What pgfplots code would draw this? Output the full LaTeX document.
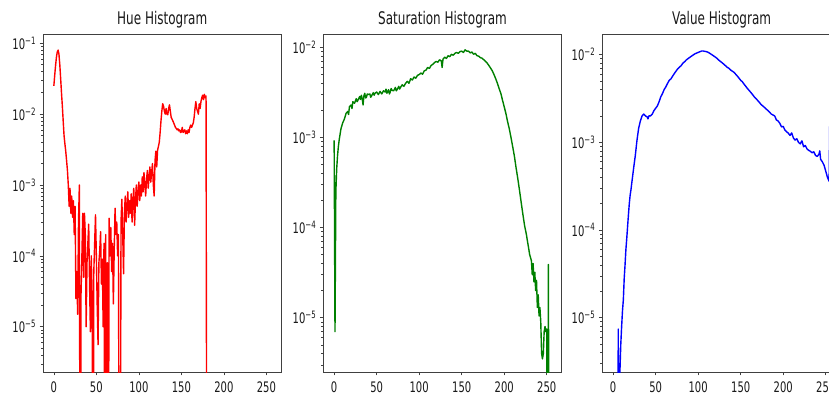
\documentclass[border=0pt]{standalone}
\usepackage{pgfplots}
\pgfplotsset{compat=1.18}
\usepackage{fontspec}
\setmainfont{DejaVu Sans}
\usepackage{graphicx}
\newcommand{\sy}[1]{\scalebox{1}[1.45]{#1}}
\newcommand{\ex}[1]{\sy{10\textsuperscript{−#1}}}
\pgfplotsset{
 every axis/.append style={
  scale only axis, width=238.5pt, height=338pt, anchor=south west,
  xmin=-12.75, xmax=267.75,
  xtick={0,50,100,150,200,250},
  xticklabels={\sy{0},\sy{50},\sy{100},\sy{150},\sy{200},\sy{250}},
  tick align=outside, tick pos=left,
  major tick length=3.5pt, minor tick length=2pt,
  tick style={black!75, line width=0.6pt},
  axis line style={black!75, line width=0.8pt},
  tick label style={font=\fontsize{10}{12}\selectfont, text=black!90},
  xticklabel style={yshift=-2.5pt},
  title style={font=\fontsize{12}{14}\selectfont, anchor=base, yshift=3.5pt, text=black!90},
 },
}
\begin{document}
\begin{tikzpicture}
\path[use as bounding box, clip] (0pt,0pt) rectangle (829pt,396pt);
% ---------------- Hue
\begin{axis}[ymode=log, at={(43pt,24pt)}, ymin=2.3e-6, ymax=0.135, title={\sy{Hue Histogram}},
  ytick={1e-5,1e-4,1e-3,1e-2,1e-1},
  yticklabels={\ex{5},\ex{4},\ex{3},\ex{2},\ex{1}},
  minor ytick={3e-6,4e-6,5e-6,6e-6,7e-6,8e-6,9e-6,2e-5,3e-5,4e-5,5e-5,6e-5,7e-5,8e-5,9e-5,2e-4,3e-4,4e-4,5e-4,6e-4,7e-4,8e-4,9e-4,2e-3,3e-3,4e-3,5e-3,6e-3,7e-3,8e-3,9e-3,2e-2,3e-2,4e-2,5e-2,6e-2,7e-2,8e-2,9e-2}]
\addplot[line width=1.4pt, mark=none, line join=round, color=red] coordinates {
(0,2.5e-2)(1,3.5e-2)(2,4.8e-2)(3,6.3e-2)(4,7.5e-2)(5,8e-2)(6,7e-2)(7,5e-2)(8,3.2e-2)(9,2e-2)
(10,1.3e-2)(11,8e-3)(12,5e-3)(13,3.8e-3)(14,3e-3)(15,2.2e-3)(16,1.6e-3)(17,1e-3)(18,5e-4)(19,9e-4)
(20,4e-4)(21,7e-4)(22,3.5e-4)(23,6e-4)(24,2e-4)(25,5e-4)(26,2.5e-5)(27,6e-5)(28,1.5e-5)(29,3e-4)
(30,1e-3)(31,1e-9)(32,3e-5)(33,1e-4)(34,4e-4)(35,5e-5)(36,4e-4)(37,2e-4)(38,1e-5)(39,8e-5)
(40,1.5e-4)(41,2.8e-4)(42,4e-5)(43,8.5e-6)(44,1e-4)(45,3e-5)(46,1e-9)(47,6e-5)(48,1.5e-4)(49,3.8e-4)
(50,1e-4)(51,2e-5)(52,5.6e-6)(53,8e-5)(54,1.2e-4)(55,2.2e-4)(56,4e-5)(57,9e-5)(58,1e-5)(59,1.5e-4)
(60,1e-9)(61,2e-4)(62,1e-9)(63,8e-5)(64,1e-9)(65,3.4e-4)(66,1e-4)(67,2.5e-4)(68,6e-5)(69,1.5e-4)
(70,2.1e-5)(71,1.2e-4)(72,4.7e-4)(73,2e-4)(74,3e-4)(75,1e-4)(76,2e-4)(77,1e-9)(78,1e-9)(79,3e-4)
(80,6.3e-4)(81,2e-4)(82,5.6e-5)(83,4e-4)(84,7e-4)(85,3e-4)(86,5e-4)(87,8e-4)(88,3.5e-4)(89,6e-4)
(90,4e-4)(91,7.5e-4)(92,3e-4)(93,6e-4)(94,9e-4)(95,2.7e-4)(96,6e-4)(97,1e-3)(98,5e-4)(99,8e-4)
(100,1.1e-3)(101,6e-4)(102,1e-3)(103,7e-4)(104,1.3e-3)(105,8e-4)(106,1.5e-3)(107,1e-3)(108,7e-4)(109,1.2e-3)
(110,1.6e-3)(111,9e-4)(112,1.3e-3)(113,1.8e-3)(114,1.1e-3)(115,1.5e-3)(116,2e-3)(117,1e-3)(118,7e-4)(119,2.2e-3)
(120,3e-3)(121,1.8e-3)(122,3.1e-3)(123,3.5e-3)(124,4e-3)(125,5.5e-3)(126,8e-3)(127,1.1e-2)(128,1.4e-2)(129,1.3e-2)
(130,1.1e-2)(131,1e-2)(132,1.2e-2)(133,1e-2)(134,9.8e-3)(135,1.2e-2)(136,1.35e-2)(137,1.1e-2)(138,9e-3)(139,8.5e-3)
(140,8e-3)(141,7.5e-3)(142,7e-3)(143,6.5e-3)(144,6.3e-3)(145,6e-3)(146,6.2e-3)(147,5.8e-3)(148,6e-3)(149,5.5e-3)
(150,5.6e-3)(151,6.5e-3)(152,5.5e-3)(153,5.8e-3)(154,6e-3)(155,5.3e-3)(156,5.8e-3)(157,5.3e-3)(158,6e-3)(159,5.5e-3)
(160,6.5e-3)(161,7e-3)(162,6.5e-3)(163,7e-3)(164,7.5e-3)(165,9e-3)(166,1.2e-2)(167,1.5e-2)(168,1.2e-2)(169,1.1e-2)
(170,1e-2)(171,1.4e-2)(172,1.2e-2)(173,1.5e-2)(174,1.7e-2)(175,1.85e-2)(176,1.6e-2)(177,1.9e-2)(178,1.7e-2)(179,1.8e-2)
(180,1e-9)
};
\end{axis}
% ---------------- Saturation
\begin{axis}[ymode=log, at={(323.3pt,24pt)}, ymin=2.5e-6, ymax=0.0141, title={\sy{Saturation Histogram}},
  ytick={1e-5,1e-4,1e-3,1e-2},
  yticklabels={\ex{5},\ex{4},\ex{3},\ex{2}},
  minor ytick={3e-6,4e-6,5e-6,6e-6,7e-6,8e-6,9e-6,2e-5,3e-5,4e-5,5e-5,6e-5,7e-5,8e-5,9e-5,2e-4,3e-4,4e-4,5e-4,6e-4,7e-4,8e-4,9e-4,2e-3,3e-3,4e-3,5e-3,6e-3,7e-3,8e-3,9e-3}]
\addplot[line width=1.4pt, mark=none, line join=round, color={rgb,255:red,0;green,128;blue,0}] coordinates {
(0,9.3e-4)(1,7e-6)(2,2.5e-4)(3,4.5e-4)(4,6.3e-4)(5,8e-4)(6,9.5e-4)(8,1.25e-3)(10,1.45e-3)(12,1.6e-3)
(14,1.85e-3)(16,1.95e-3)(17,1.8e-3)(18,2.2e-3)(20,2.3e-3)(21,2.1e-3)(22,2.5e-3)(24,2.4e-3)(26,2.7e-3)(27,2.5e-3)(28,2.6e-3)(30,2.85e-3)(31,2.65e-3)(32,2.95e-3)
(33,2.7e-3)(34,2.3e-3)(35,2.9e-3)(36,3.1e-3)(37,2.75e-3)(38,2.8e-3)(39,3.05e-3)(40,3e-3)(42,3.05e-3)(43,2.8e-3)(44,2.9e-3)(46,3.15e-3)(47,2.95e-3)(48,3.1e-3)
(50,3.2e-3)(52,3.0e-3)(54,3.25e-3)(56,3.05e-3)(58,3.3e-3)(60,3.2e-3)(61,3.45e-3)(62,3.1e-3)(64,3.4e-3)(65,3.05e-3)(66,3.2e-3)(67,3.5e-3)(68,3.35e-3)
(70,3.3e-3)(72,3.6e-3)(73,3.3e-3)(74,3.4e-3)(76,3.7e-3)(77,3.45e-3)(78,3.6e-3)(80,3.85e-3)(82,3.7e-3)(84,4e-3)(86,4.2e-3)(88,4e-3)
(90,4.5e-3)(92,4.35e-3)(94,4.7e-3)(96,4.55e-3)(98,4.9e-3)(100,5e-3)(102,5.2e-3)(104,5.05e-3)(106,5.5e-3)(108,5.6e-3)
(110,6e-3)(112,5.85e-3)(114,6.3e-3)(116,6.5e-3)(118,6.8e-3)(120,7e-3)(122,6.85e-3)(124,7.3e-3)(126,7.1e-3)(127,6e-3)
(128,7.4e-3)(130,7.8e-3)(132,7.55e-3)(134,8.1e-3)(136,7.9e-3)(138,8.4e-3)(140,8.2e-3)(142,8.6e-3)(144,8.8e-3)(146,8.6e-3)
(148,9e-3)(150,9.1e-3)(152,8.8e-3)(154,9.4e-3)(156,9.1e-3)(158,9.1e-3)(160,8.7e-3)(162,8.9e-3)(164,8.4e-3)(166,8.6e-3)
(168,8.1e-3)(170,8e-3)(172,7.7e-3)(174,7.6e-3)(176,7.3e-3)(178,7e-3)(180,6.7e-3)(182,6.3e-3)(184,5.9e-3)(186,5.5e-3)
(188,5e-3)(190,4.5e-3)(192,4e-3)(194,3.5e-3)(196,3.1e-3)(198,2.6e-3)(200,2.2e-3)(202,1.85e-3)(204,1.5e-3)(206,1.25e-3)
(208,1e-3)(210,7.9e-4)(212,6.2e-4)(214,4.6e-4)(216,3.5e-4)(218,2.6e-4)(220,1.9e-4)(222,1.4e-4)(224,1.05e-4)(226,8.5e-5)
(228,6.5e-5)(230,5e-5)(232,4.3e-5)(233,3e-5)(234,4e-5)(235,2.5e-5)(236,3.2e-5)(237,2e-5)(238,2.6e-5)(239,1.3e-5)
(240,1.8e-5)(241,1.05e-5)(242,1.3e-5)(243,9e-6)(244,4e-6)(245,3.5e-6)(246,4e-6)(247,7e-6)(248,8e-6)(249,7e-6)
(250,7.5e-6)(251,1e-9)(252,3.9e-5)(253,1e-9)
};
\end{axis}
% ---------------- Value
\begin{axis}[ymode=log, at={(602.3pt,24pt)}, ymin=2.4e-6, ymax=0.0172, title={\sy{Value Histogram}},
  ytick={1e-5,1e-4,1e-3,1e-2},
  yticklabels={\ex{5},\ex{4},\ex{3},\ex{2}},
  minor ytick={3e-6,4e-6,5e-6,6e-6,7e-6,8e-6,9e-6,2e-5,3e-5,4e-5,5e-5,6e-5,7e-5,8e-5,9e-5,2e-4,3e-4,4e-4,5e-4,6e-4,7e-4,8e-4,9e-4,2e-3,3e-3,4e-3,5e-3,6e-3,7e-3,8e-3,9e-3}]
\addplot[line width=1.4pt, mark=none, line join=round, color=blue] coordinates {
(5,1e-9)(6,7.4e-6)(7,1e-9)(8,2.5e-6)(9,5e-6)(10,8e-6)(11,1.2e-5)(12,1.6e-5)(13,2.8e-5)(14,4e-5)
(15,6e-5)(16,8e-5)(17,1.1e-4)(18,1.5e-4)(19,2e-4)(20,2.5e-4)(21,2.9e-4)(22,3.5e-4)(24,5e-4)(26,7e-4)
(28,1.05e-3)(30,1.45e-3)(32,1.75e-3)(34,2e-3)(36,2.1e-3)(38,2e-3)(40,1.95e-3)(41,1.85e-3)(42,2e-3)(44,2e-3)
(46,2.1e-3)(48,2.3e-3)(50,2.45e-3)(52,2.6e-3)(54,2.9e-3)(56,3.3e-3)(58,3.6e-3)(60,4e-3)(62,4.3e-3)(64,4.7e-3)
(66,5.1e-3)(68,5.3e-3)(70,5.7e-3)(72,6.1e-3)(74,6.5e-3)(76,6.9e-3)(78,7.2e-3)(80,7.5e-3)(82,8e-3)(84,8.3e-3)
(86,8.7e-3)(88,9e-3)(90,9.3e-3)(92,9.6e-3)(94,9.9e-3)(96,1.02e-2)(98,1.04e-2)(100,1.06e-2)(102,1.08e-2)(104,1.1e-2)
(106,1.1e-2)(108,1.09e-2)(110,1.08e-2)(112,1.06e-2)(114,1.03e-2)(116,1e-2)(118,9.7e-3)(120,9.4e-3)(122,9.1e-3)(124,8.7e-3)
(126,8.4e-3)(128,8.1e-3)(130,7.8e-3)(132,7.5e-3)(134,7.2e-3)(136,7e-3)(138,6.7e-3)(140,6.5e-3)(142,6.3e-3)(144,6e-3)
(146,5.7e-3)(148,5.4e-3)(150,5.1e-3)(152,4.9e-3)(154,4.6e-3)(156,4.35e-3)(158,4.1e-3)(160,3.9e-3)(162,3.7e-3)(164,3.5e-3)
(166,3.3e-3)(168,3.15e-3)(170,3e-3)(172,2.85e-3)(174,2.7e-3)(176,2.6e-3)(178,2.5e-3)(180,2.4e-3)(182,2.3e-3)(184,2.2e-3)
(186,2.1e-3)(188,2.05e-3)(190,2e-3)(192,1.8e-3)(194,1.75e-3)(196,1.65e-3)(198,1.5e-3)(200,1.52e-3)(202,1.38e-3)(204,1.32e-3)
(206,1.27e-3)(208,1.2e-3)(210,1.28e-3)(212,1.12e-3)(214,1.06e-3)(216,1.1e-3)(218,1e-3)(220,9.6e-4)(222,1.04e-3)(224,8.9e-4)
(226,9.2e-4)(228,8.4e-4)(230,8.1e-4)(232,7.9e-4)(234,7.6e-4)(236,7.8e-4)(238,7.1e-4)(240,6.9e-4)(242,7.3e-4)(243,8e-4)
(244,6.4e-4)(246,6e-4)(248,5.5e-4)(250,4.7e-4)(252,4e-4)(254,3.6e-4)(255,3e-3)
};
\end{axis}
\end{tikzpicture}
\end{document}
